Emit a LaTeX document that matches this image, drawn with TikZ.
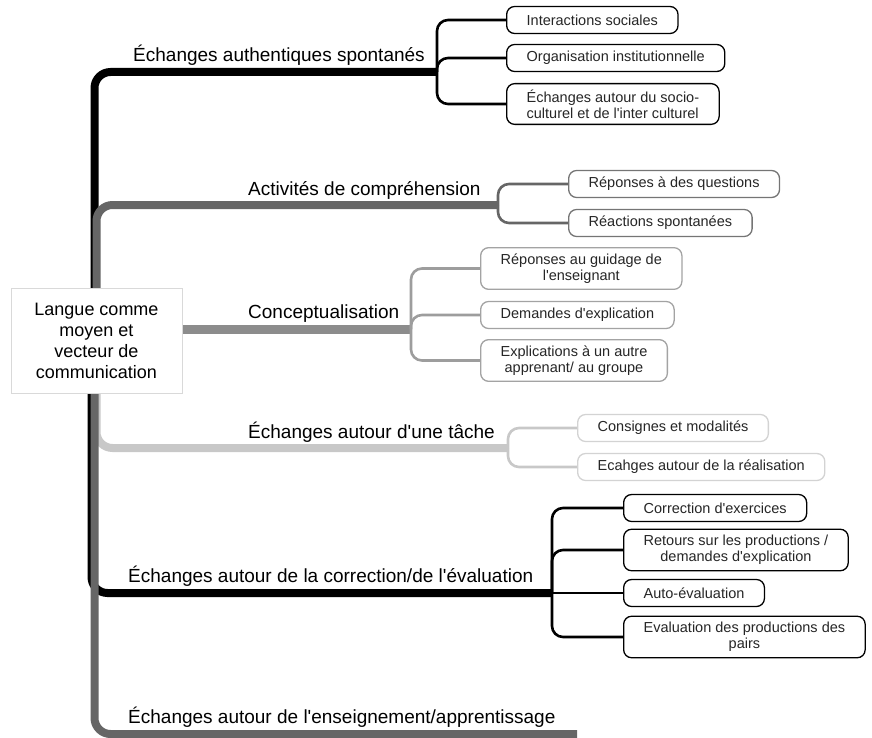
\documentclass[tikz,border=0pt]{standalone}
\usepackage{fontspec}
\setmainfont{Liberation Sans}
\usepackage{tikz}
\usetikzlibrary{backgrounds}
\definecolor{brdark}{HTML}{666666}
\definecolor{brmid}{HTML}{8C8C8C}
\definecolor{brlight}{HTML}{C8C8C8}
\newcommand{\ap}{\textquotesingle}
\tikzset{
  rootbox/.style={draw=gray!30, fill=white, minimum width=171pt, minimum height=105pt, align=center, font=\fontsize{18}{21}\selectfont},
  leaf/.style={draw, rounded corners=8pt, line width=1.3pt, fill=white, anchor=west, inner xsep=20pt, inner ysep=6pt, minimum height=27pt, text=black!85, font=\fontsize{14.5}{16}\selectfont},
  branchlabel/.style={anchor=base west, inner sep=0pt, font=\fontsize{19}{22}\selectfont},
  branch/.style={line width=8pt, rounded corners=16pt},
  fork/.style={line width=2.6pt, rounded corners=11pt},
}

\begin{document}
\begin{tikzpicture}[x=1pt,y=-1pt]
  \useasboundingbox (0,0) rectangle (872,738);
  \node[rootbox] (root) at (96.5,340.5) {Langue comme\\moyen et\\vecteur de\\communication};
  % fork points
  \coordinate (f1) at (437,72);
  \coordinate (f2) at (498,205);
  \coordinate (f3) at (411,329);
  \coordinate (f4) at (508,448);
  \coordinate (f5) at (552,593);
  \coordinate (e6) at (577,734);
  % branch labels
  \node[branchlabel] (l1) at (133,62) {Échanges authentiques spontanés};
  \node[branchlabel] (l2) at (248,195) {Activités de compréhension};
  \node[branchlabel] (l3) at (248,318) {Conceptualisation};
  \node[branchlabel] (l4) at (248,438) {Échanges autour d\ap une tâche};
  \node[branchlabel] (l5) at (128,582) {Échanges autour de la correction/de l\ap évaluation};
  \node[branchlabel] (l6) at (128,723) {Échanges autour de l\ap enseignement/apprentissage};
  % sub-topics
  \node[leaf] (c11) at (506,20) {Interactions sociales};
  \node[leaf] (c12) at (506,58) {Organisation institutionnelle};
  \node[leaf, align=left] (c13) at (506,104) {Échanges autour du socio-\\culturel et de l\ap inter culturel};
  \node[leaf, draw=brdark!90] (c21) at (568,184) {Réponses à des questions};
  \node[leaf, draw=brdark!90] (c22) at (568,223) {Réactions spontanées};
  \node[leaf, draw=brmid!80, align=center] (c31) at (480,268.5) {Réponses au guidage de\\l\ap enseignant};
  \node[leaf, draw=brmid!80] (c32) at (480,315) {Demandes d\ap explication};
  \node[leaf, draw=brmid!80, align=center] (c33) at (480,360.5) {Explications à un autre\\apprenant/ au groupe};
  \node[leaf, draw=brlight!80] (c41) at (577,428) {Consignes et modalités};
  \node[leaf, draw=brlight!80] (c42) at (577,467) {Ecahges autour de la réalisation};
  \node[leaf] (c51) at (623,508) {Correction d\ap exercices};
  \node[leaf, align=center] (c52) at (623,550) {Retours sur les productions /\\demandes d\ap explication};
  \node[leaf] (c53) at (623,593) {Auto-évaluation};
  \node[leaf, align=center] (c54) at (623,637) {Evaluation des productions des\\pairs};
  \begin{scope}[on background layer]
    % main branches
    \draw[branch, brlight] (root.south) |- (f4);
    \draw[branch, black] ([xshift=-2pt]root.north) |- (f1);
    \draw[branch, black] ([xshift=-5pt]root.south) |- (f5);
    \draw[branch, brdark] (root.north) |- (f2);
    \draw[branch, brdark] ([xshift=-2pt]root.south) |- (e6);
    \draw[branch, brmid, line width=9pt] (root.east |- f3) -- (f3);
    % forks
    \foreach \c in {c11,c12,c13} \draw[fork, black] (f1) |- (\c.west);
    \foreach \c in {c21,c22} \draw[fork, brdark] (f2) |- (\c.west);
    \foreach \c in {c31,c32,c33} \draw[fork, brmid!85] (f3) |- (\c.west);
    \foreach \c in {c41,c42} \draw[fork, brlight] (f4) |- (\c.west);
    \foreach \c in {c51,c52,c54} \draw[fork, black] (f5) |- (\c.west);
    \draw[fork, black] (f5) -- (c53.west);
  \end{scope}
\end{tikzpicture}
\end{document}
